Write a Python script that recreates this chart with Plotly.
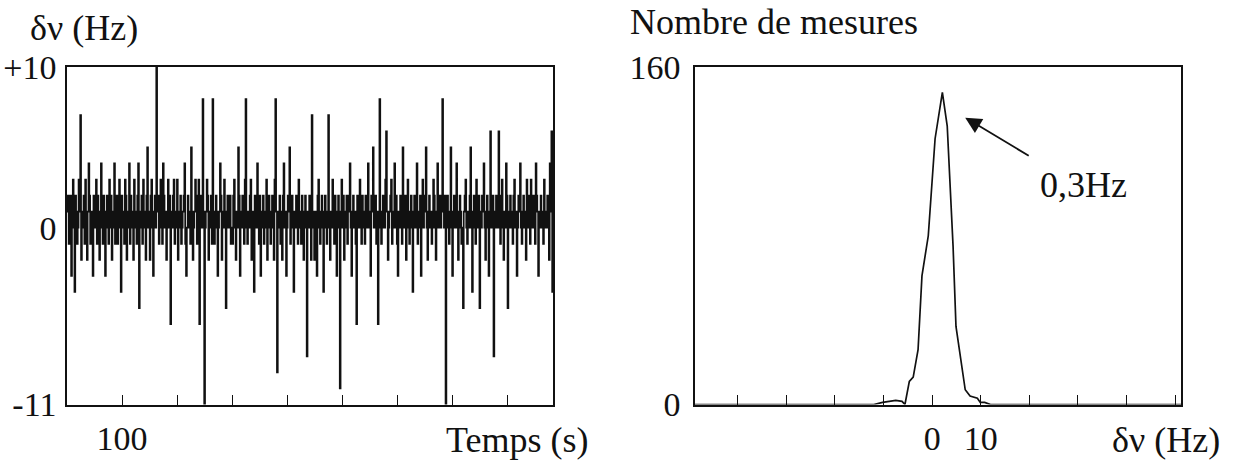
import plotly.graph_objects as go

# Left panel: frequency deviation vs time (Hz), one sample every 1.5 s
dnu = [1, 2, -1, 0, 2, -3, 1, 3, 0, -4, 2, 1, -1, 0, 3, 1, 7, -2, 1, 0,
       2, -1, 3, 0, -2, 1, 4, 2, -1, 0, 1, -3, 2, 0, 1, 3, -1, 2, 0, -2,
       1, 4, 0, -1, 2, 1, -3, 0, 2, 1, -1, 3, 0, 2, -2, 1, 0, 4, -1, 1,
       2, -1, 0, 3, 1, -4, 2, 0, 1, -1, 3, 2, -2, 0, 1, 4, -1, 2, 0, 1,
       -2, 3, 1, 0, -1, 2, 4, -5, 1, 0, 2, -1, 3, 1, 0, -2, 2, 5, 0, 1,
       -2, 2, 3, 0, -3, 1, 2, 0, 10, 1, 2, -1, 0, 3, 1, -1, 4, 2, 0, 1,
       -2, 1, 3, 0, 2, -6, 1, 0, 2, 3, -1, 1, 0, 3, -2, 1, 0, 2, -1, 0,
       1, 2, 4, -1, -3, 0, 2, 1, 0, -1, 5, 1, -2, 0, 1, 3, 2, -1, 0, 3,
       -6, 1, 2, 0, 8, 1, -11, 0, 1, 3, 2, -2, 0, 1, 2, -1, 8, 1, -1, 0,
       2, 1, -3, 0, 1, 4, 2, -2, 0, 1, 3, 0, -5, 1, 2, 0, 1, 2, -1, 0,
       -1, 2, 3, 0, -2, 1, 0, 5, 2, -3, 1, 0, 2, 1, -1, 3, 8, 0, -1, 1,
       0, 2, 3, -2, 1, 0, -4, 2, 1, 0, 4, 1, -1, 2, -3, 0, 1, 2, -1, 0,
       1, 3, -2, 0, 2, 1, -1, 0, 2, 1, -2, 3, 8, 1, -9, 0, 1, 2, -1, 1,
       -2, 2, 4, 0, 1, -3, 0, 2, 1, 5, -1, 0, 2, 1, -4, 0, 1, 2, 0, -1,
       3, 0, 1, -1, 2, 0, -2, 1, 2, 0, -8, 1, 0, 2, 1, -2, 7, 0, 1, -2,
       1, 0, -3, 2, 3, 0, -1, 1, 2, 0, -4, 1, 2, 0, -1, 1, 7, 0, -2, 1,
       0, 3, 1, -1, 2, 0, -3, 1, 2, 0, -10, 1, 3, 0, 2, -2, 1, 0, 2, -1,
       1, 2, 4, 0, -3, 1, 2, 0, 1, -1, -6, 2, 0, 1, 3, 0, -1, 2, 1, 0,
       -1, 2, 1, 0, 4, 1, 0, -3, 2, 1, 5, 0, 1, 2, -1, 1, -6, 0, 8, 1,
       -1, 0, 2, 1, 0, 3, 6, 1, -2, 0, 1, 2, 3, -1, 0, 1, 4, 0, 2, -1,
       -3, 1, 0, 2, 1, -1, 5, 0, 1, 2, -2, 0, 3, 1, -1, 0, 2, 1, -4, 0,
       2, 1, 0, 4, -1, 1, 0, 2, -3, 1, 3, 0, 2, 1, 5, 0, -2, 1, 2, 0,
       1, -1, 0, 3, 2, 0, -2, 1, 4, 0, 1, 2, 0, 1, 8, 1, 0, 2, -11, 0,
       2, 1, -1, 0, 5, 1, -3, 0, 2, 1, 0, 4, 1, -2, 0, 2, 1, -1, 0, -5,
       1, 2, 3, 0, -1, 1, 0, 2, 5, 0, -4, 1, 2, 0, -1, 3, 1, 0, 2, -5,
       1, 0, 2, 1, 4, 0, -2, 1, 2, 0, -3, 1, 6, 0, 1, 2, -8, 1, 0, 2,
       1, 0, 6, 1, -1, 2, 3, 0, -2, 1, 0, 4, 2, -5, 0, 1, 2, 0, 1, -1,
       2, 3, 0, 1, -3, 0, 2, 1, 4, 0, -1, 1, 2, 0, 1, -2, 3, 1, 0, 2,
       -1, 3, 0, 1, 2, 0, -1, 4, 2, 1, -3, 0, 1, 2, 0, 1, -1, 3, 1, 0,
       0, 2, 1, -2, 4, 1, 6, -4, 0, 1, 2, 0, -1, 3, 1, 0, 2, 1, 0, -1]
sample_step = 1.5
temps = [sample_step * i for i in range(len(dnu))]

time_ticks = [100, 200, 300, 400, 500, 600, 700, 800]
time_ticktext = ["100", "", "", "", "", "", "", ""]
left_yvals = [10, 0, -11]
left_ytext = ["+10", "0", "-11"]

# Right panel: histogram of the deviations
hist_x = [-48.8, -12, -10.2, -9, -7.5, -6.2, -5.6, -4.7, -3.9, -2.9, -2.1, -0.8,
          0.6, 2.1, 3.1, 4.3, 4.9, 6.8, 7.8, 9.3, 9.9, 10.8, 12, 51.2]
hist_n = [0, 0, 1, 1.5, 2, 1.5, 0, 11, 13, 26, 61, 80,
          126, 148, 132, 75, 37, 7, 4, 3, 1, 1, 0, 0]
freq_ticks = [-40, -30, -20, -10, 0, 10, 20, 30, 40, 50]
freq_ticktext = ["", "", "", "", "0", "10", "", "", "", ""]
right_yvals = [0, 160]
right_ytext = ["0", "160"]

FONT = "Liberation Serif"
FS = 36
TFS = 34
INK = "#111111"

fig = go.Figure()
fig.add_trace(go.Scatter(x=temps, y=dnu, mode="lines", line=dict(color=INK, width=1.7, shape="hv"),
                         xaxis="x", yaxis="y", showlegend=False))
fig.add_trace(go.Scatter(x=hist_x, y=hist_n, mode="lines", line=dict(color=INK, width=1.7),
                         xaxis="x2", yaxis="y2", showlegend=False))

ax_common = dict(showgrid=False, zeroline=False, showline=True, linecolor=INK, linewidth=1.6,
                 mirror=True, automargin=False, tickfont=dict(family=FONT, size=TFS, color=INK))

fig.update_layout(
    width=1234, height=467,
    margin=dict(l=0, r=0, t=0, b=0, autoexpand=False),
    paper_bgcolor="white", plot_bgcolor="white",
    font=dict(family=FONT, size=FS, color=INK),
    xaxis=dict(domain=[67/1234, 553/1234], range=[0, 882], tickvals=time_ticks, ticktext=time_ticktext,
               ticks="inside", ticklen=10, tickwidth=1.2, tickcolor=INK, ticklabelstandoff=3, **ax_common),
    yaxis=dict(domain=[0.1338, 0.8565], range=[-11, 10], tickvals=left_yvals, ticktext=left_ytext,
               ticks="", ticklabelstandoff=2, **ax_common),
    xaxis2=dict(domain=[695/1234, 1181/1234], range=[-48.8, 51.2], tickvals=freq_ticks, ticktext=freq_ticktext,
                ticks="inside", ticklen=10, tickwidth=1.2, tickcolor=INK, ticklabelstandoff=3,
                anchor="y2", **ax_common),
    yaxis2=dict(domain=[0.1338, 0.8565], range=[0, 160], tickvals=right_yvals, ticktext=right_ytext,
                ticks="", ticklabelstandoff=6, anchor="x2", **ax_common),
    annotations=[
        dict(text="δν (Hz)", xref="paper", yref="paper", x=28/1234, y=1-28/467, xanchor="left",
             yanchor="middle", showarrow=False, font=dict(family=FONT, size=FS, color=INK)),
        dict(text="Temps (s)", xref="paper", yref="paper", x=590/1234, y=1-440/467, xanchor="right",
             yanchor="middle", showarrow=False, font=dict(family=FONT, size=FS, color=INK)),
        dict(text="Nombre de mesures", xref="paper", yref="paper", x=628/1234, y=1-22/467, xanchor="left",
             yanchor="middle", showarrow=False, font=dict(family=FONT, size=FS, color=INK)),
        dict(text="δν (Hz)", xref="paper", yref="paper", x=1222/1234, y=1-440/467, xanchor="right",
             yanchor="middle", showarrow=False, font=dict(family=FONT, size=FS, color=INK)),
        dict(text="", xref="x2", yref="y2", x=6.8, y=136, ax=65, ay=39, showarrow=True,
             arrowhead=2, arrowsize=1.8, arrowwidth=1.8, arrowcolor=INK),
        dict(text="0,3Hz", xref="paper", yref="paper", x=1083/1234, y=1-185/467, xanchor="center",
             yanchor="middle", showarrow=False, font=dict(family=FONT, size=FS, color=INK)),
    ],
)

fig.write_html("out.html")
